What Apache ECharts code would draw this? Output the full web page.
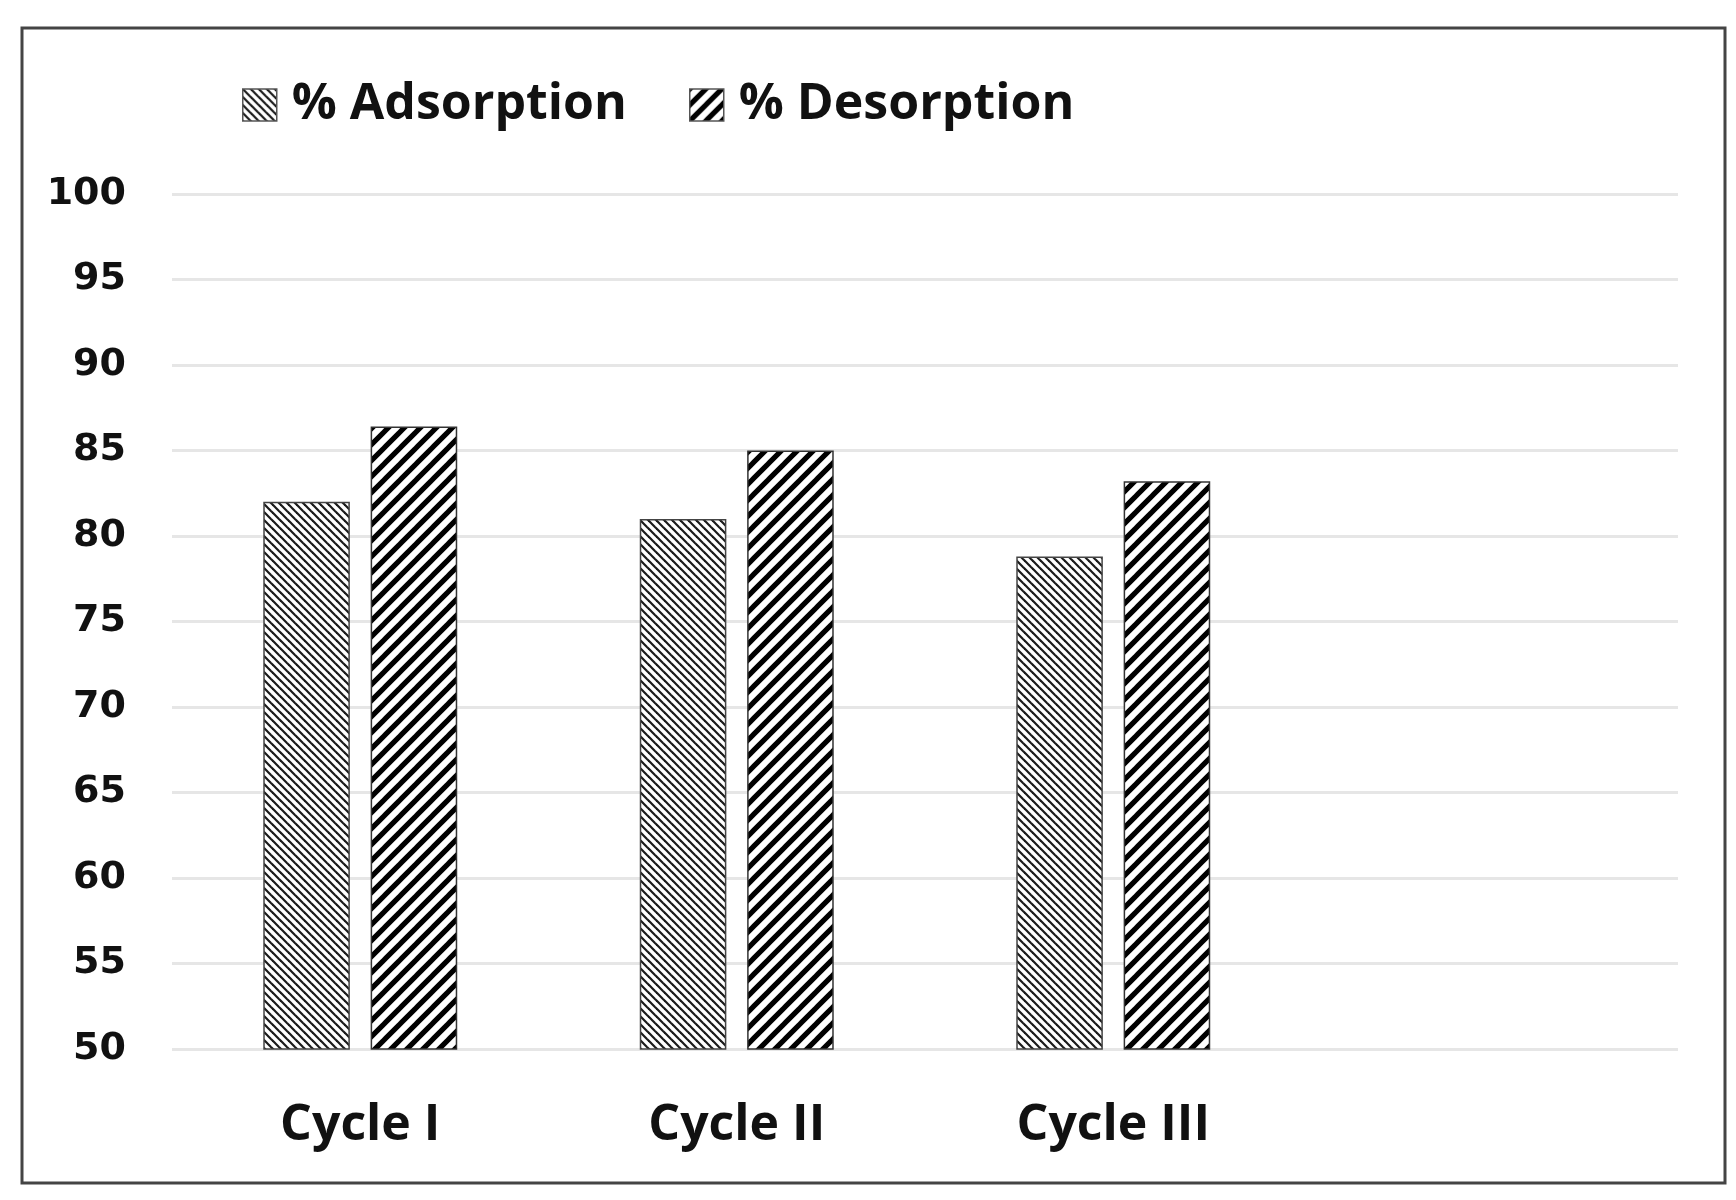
<!DOCTYPE html>
<html>
<head>
<meta charset="utf-8">
<script src="https://cdn.jsdelivr.net/npm/echarts@6/dist/echarts.min.js"></script>
<style>
  html, body { margin: 0; padding: 0; background: #ffffff; }
  #chart { width: 1736px; height: 1200px; }
</style>
</head>
<body>
<div id="chart"></div>
<script>
const categories = ['Cycle I', 'Cycle II', 'Cycle III', ''];
const adsorption = [82.0, 81.0, 78.8, null];
const desorption = [86.4, 85.0, 83.2, null];
const seriesNames = ['% Adsorption', '% Desorption'];
const yTicks = { min: 50, max: 100, interval: 5 };

function makeHatch(size, lineWidth, dir, color) {
  const c = document.createElement('canvas');
  c.width = size; c.height = size;
  const ctx = c.getContext('2d');
  ctx.fillStyle = '#ffffff';
  ctx.fillRect(0, 0, size, size);
  ctx.strokeStyle = color;
  ctx.lineWidth = lineWidth;
  ctx.lineCap = 'square';
  for (let i = -2; i <= 2; i++) {
    ctx.beginPath();
    if (dir === '/') {
      ctx.moveTo(i * size, size);
      ctx.lineTo(i * size + size, 0);
    } else {
      ctx.moveTo(i * size, 0);
      ctx.lineTo(i * size + size, size);
    }
    ctx.stroke();
  }
  return c;
}

const adsPattern = { image: makeHatch(8, 2.2, '\\', '#1a1a1a'), repeat: 'repeat' };
const desPattern = { image: makeHatch(16, 5.2, '/', '#000000'), repeat: 'repeat' };

const chart = echarts.init(document.getElementById('chart'));
const narrowFont = '"Liberation Sans Narrow", "Open Sans", sans-serif';
const legendText = {
  fontFamily: narrowFont,
  fontWeight: 'bold',
  fontSize: 50,
  color: '#111',
  padding: [0, 0, 0, 10]
};
chart.setOption({
  backgroundColor: '#ffffff',
  animation: false,
  graphic: [{
    type: 'rect',
    shape: { x: 22, y: 28, width: 1703, height: 1155 },
    style: { fill: 'none', stroke: '#444', lineWidth: 3 },
    silent: true
  }],
  legend: [
    {
      data: [seriesNames[0]],
      left: 242, top: 80,
      itemWidth: 34, itemHeight: 32, padding: 0,
      icon: 'rect',
      itemStyle: { borderColor: '#555', borderWidth: 1.5 },
      textStyle: legendText
    },
    {
      data: [seriesNames[1]],
      left: 689, top: 80,
      itemWidth: 34, itemHeight: 32, padding: 0,
      icon: 'rect',
      itemStyle: { borderColor: '#555', borderWidth: 1.5 },
      textStyle: legendText
    }
  ],
  grid: { left: 172, right: 58, top: 194, bottom: 151, containLabel: false },
  xAxis: {
    type: 'category',
    data: categories,
    axisLine: { show: false },
    axisTick: { show: false },
    axisLabel: {
      interval: 0,
      margin: 52,
      fontFamily: narrowFont,
      fontWeight: 'bold',
      fontSize: 50,
      color: '#111'
    }
  },
  yAxis: {
    type: 'value',
    min: yTicks.min, max: yTicks.max, interval: yTicks.interval,
    axisLine: { show: false },
    axisTick: { show: false },
    splitLine: { lineStyle: { color: '#e6e6e6', width: 3 } },
    axisLabel: {
      margin: 46,
      fontFamily: '"DejaVu Sans", Verdana, sans-serif',
      fontWeight: 'bold',
      fontSize: 38,
      color: '#111'
    }
  },
  series: [
    {
      name: seriesNames[0],
      type: 'bar',
      data: adsorption,
      barWidth: '23%',
      barGap: '24%',
      itemStyle: { color: adsPattern, borderColor: '#444', borderWidth: 1.5 }
    },
    {
      name: seriesNames[1],
      type: 'bar',
      data: desorption,
      barWidth: '23%',
      barGap: '24%',
      itemStyle: { color: desPattern, borderColor: '#333', borderWidth: 1.5 }
    }
  ]
});
</script>
</body>
</html>
